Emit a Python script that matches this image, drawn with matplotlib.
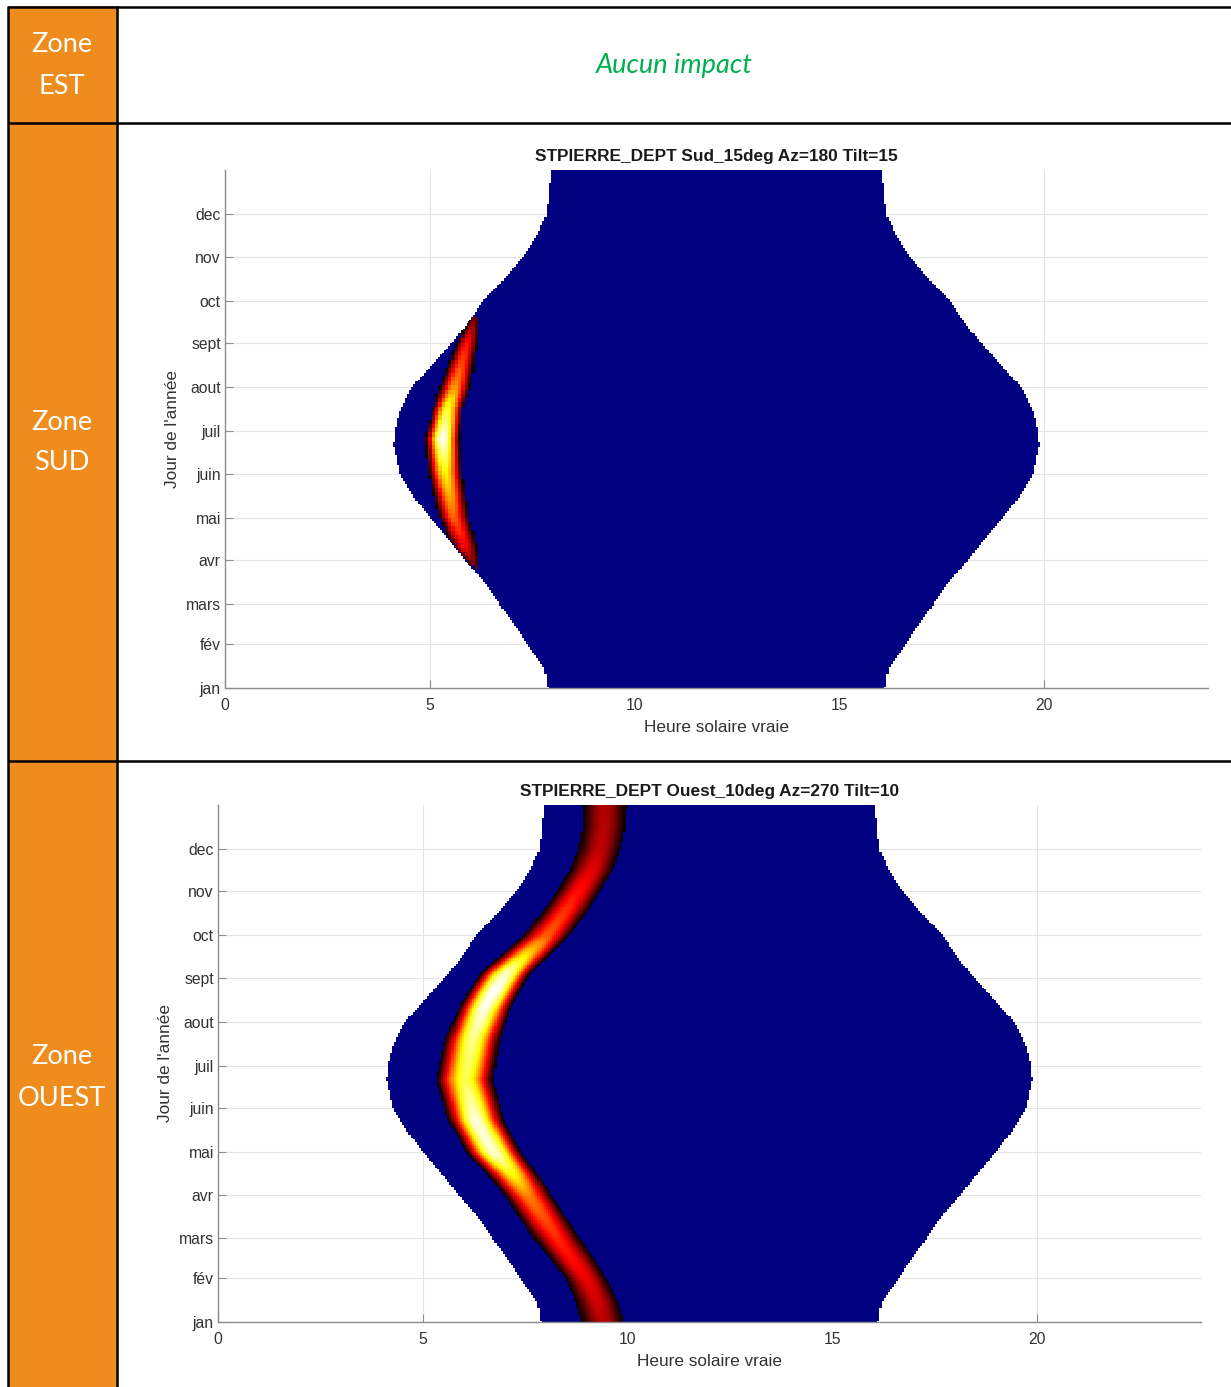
import numpy as np
import matplotlib
matplotlib.use("Agg")
import matplotlib.pyplot as plt
from matplotlib.colors import ListedColormap

plt.rcParams['font.family'] = ['Liberation Sans', 'DejaVu Sans']

W, H = 1231, 1387

# axis ticks
month_labels = ['jan', 'fév', 'mars', 'avr', 'mai', 'juin', 'juil', 'aout', 'sept', 'oct', 'nov', 'dec']
month_days = [1, 32, 60, 91, 121, 152, 182, 213, 244, 274, 305, 335]
hour_ticks = [0, 5, 10, 15, 20]

# sunrise in true solar time over the year (sunset = 24 - sunrise)
sun_days = [1, 15, 32, 46, 60, 74, 91, 105, 121, 135, 152, 166, 172, 182, 196,
            213, 227, 244, 258, 274, 288, 305, 319, 335, 349, 365]
sunrise_h = [7.88, 7.80, 7.38, 7.05, 6.71, 6.39, 5.85, 5.49, 5.00, 4.63, 4.27, 4.17, 4.12, 4.15, 4.27,
             4.56, 5.00, 5.54, 5.93, 6.30, 6.78, 7.27, 7.61, 7.85, 7.90, 7.95]

# south panel: shading band (start/end hour and peak loss per day)
sud_days = [85, 99, 121, 152, 175, 196, 212, 243, 259]
sud_start = [6.00, 5.54, 5.20, 4.95, 4.88, 5.05, 5.24, 5.66, 5.98]
sud_end = [6.17, 6.15, 5.93, 5.78, 5.73, 5.80, 5.98, 6.15, 6.17]
sud_peak = [0.15, 0.35, 0.52, 0.75, 1.00, 0.80, 0.58, 0.38, 0.18]

# west panel: shading band centre, half width and peak loss per day
ouest_days = [1, 16, 31, 45, 59, 74, 89, 105, 120, 143, 172, 200, 223, 235, 247, 260,
              274, 290, 306, 320, 336, 350, 365]
ouest_center = [9.40, 9.25, 9.00, 8.66, 8.30, 7.95, 7.60, 7.20, 6.75, 6.30, 6.03, 6.21, 6.51, 6.75, 7.02, 7.50,
                8.02, 8.45, 8.82, 9.12, 9.33, 9.42, 9.44]
ouest_halfw = [0.53, 0.52, 0.50, 0.54, 0.57, 0.58, 0.58, 0.62, 0.68, 0.68, 0.70, 0.68, 0.64, 0.63, 0.62, 0.60,
               0.57, 0.55, 0.53, 0.53, 0.52, 0.53, 0.54]
ouest_peak = [0.26, 0.30, 0.34, 0.38, 0.42, 0.48, 0.55, 0.75, 0.95, 0.97, 0.82, 0.88, 0.98, 1.00, 0.95, 0.72,
              0.50, 0.44, 0.38, 0.33, 0.27, 0.26, 0.25]

orange = '#EF8C1E'
navy = '#000080'


def daylight(days, hours):
    sr = np.interp(days, sun_days, sunrise_h)[:, None]
    return (hours[None, :] >= sr) & (hours[None, :] <= 24 - sr)


def band(days, hours, lo, hi, peak):
    lo = lo[:, None]
    hi = hi[:, None]
    c = (lo + hi) / 2
    hw = (hi - lo) / 2
    u = (hours[None, :] - c) / hw
    inside = np.abs(u) < 1
    v = peak[:, None] * np.clip(1 - u ** 2, 0, None) ** 1.5
    v = np.where(inside, np.maximum(v, 0.005), np.nan)
    return v


def draw_panel(ax, title, shade, extent):
    days = np.arange(1, 366) + 0.5
    hours = np.arange(0, 24, 0.05) + 0.025
    mask = np.where(daylight(days, hours), 1.0, np.nan)
    ax.imshow(mask, origin='lower', extent=[0, 24, 1, 366], aspect='auto',
              cmap=ListedColormap([navy]), interpolation='nearest', zorder=1)
    ax.imshow(shade, origin='lower', extent=extent, aspect='auto', cmap='hot',
              vmin=0, vmax=1, interpolation='nearest', zorder=2)

    ax.set_xlim(0, 24)
    ax.set_ylim(1, 366)
    ax.set_xticks(hour_ticks)
    ax.set_yticks(month_days)
    ax.set_yticklabels(month_labels)
    ax.grid(True, color='#e4e4e4', lw=0.8)
    ax.set_axisbelow(True)
    for s in ['top', 'right']:
        ax.spines[s].set_visible(False)
    for s in ['left', 'bottom']:
        ax.spines[s].set_color('#8c8c8c')
        ax.spines[s].set_linewidth(1.0)
    ax.tick_params(direction='in', length=6, color='#8c8c8c', labelcolor='#333333', labelsize=11.3)
    ax.tick_params(axis='x', pad=7)
    ax.tick_params(axis='y', pad=3)
    ax.set_title(title, fontsize=12.4, fontweight='bold', color='#1a1a1a', pad=6.5)
    ax.set_xlabel('Heure solaire vraie', fontsize=12.4, color='#333333', labelpad=5)
    ax.set_ylabel("Jour de l'année", fontsize=12.4, color='#333333', labelpad=4)
    ax.set_facecolor('white')


fig = plt.figure(figsize=(W / 100, H / 100), dpi=100)

# table frame drawn in pixel coordinates
bg = fig.add_axes([0, 0, 1, 1])
bg.set_xlim(0, W)
bg.set_ylim(H, 0)
bg.axis('off')
bg.add_patch(plt.Rectangle((8, 6), 109, H, color=orange, lw=0))
lw_tab = 1.8
bg.plot([8, W], [6.5, 6.5], color='black', lw=lw_tab, solid_capstyle='butt')
bg.plot([8, W], [123, 123], color='black', lw=lw_tab, solid_capstyle='butt')
bg.plot([8, W], [761, 761], color='black', lw=lw_tab, solid_capstyle='butt')
bg.plot([8, 8], [6, H], color='black', lw=lw_tab, solid_capstyle='butt')
bg.plot([117, 117], [6, H], color='black', lw=lw_tab, solid_capstyle='butt')

zone_font = dict(color='white', fontsize=19.5, family=['Lato', 'DejaVu Sans'], ha='center', va='center')
for y, txt in [(45, 'Zone'), (86, 'EST'), (422, 'Zone'), (463, 'SUD'), (1057, 'Zone'), (1098, 'OUEST')]:
    bg.text(62, y, txt, **zone_font)
bg.text(674, 65, 'Aucun impact', color='#00B050', fontsize=19.5, style='italic',
        family=['Lato', 'DejaVu Sans'], ha='center', va='center')

# south facing array
sd = np.arange(sud_days[0], sud_days[-1] + 1, 3)
sh = np.arange(4.0, 7.0, 0.08) + 0.04
sud_shade = band(sd, sh, np.interp(sd, sud_days, sud_start), np.interp(sd, sud_days, sud_end),
                 np.interp(sd, sud_days, sud_peak))
sud_shade[~daylight(sd, sh)] = np.nan
ax1 = fig.add_axes([225 / W, 1 - 688 / H, 983 / W, 518 / H])
draw_panel(ax1, 'STPIERRE_DEPT Sud_15deg Az=180 Tilt=15', sud_shade,
           [4.0, 4.0 + 0.08 * len(sh), sd[0], sd[-1] + 3])

# west facing array
od = np.arange(1, 366) + 0.5
oh = np.arange(0, 24, 0.05) + 0.025
oc = np.interp(od, ouest_days, ouest_center)
ow = np.interp(od, ouest_days, ouest_halfw)
ouest_shade = band(od, oh, oc - ow, oc + ow, np.interp(od, ouest_days, ouest_peak))
ouest_shade[~daylight(od, oh)] = np.nan
ax2 = fig.add_axes([218 / W, 1 - 1322 / H, 983 / W, 517 / H])
draw_panel(ax2, 'STPIERRE_DEPT Ouest_10deg Az=270 Tilt=10', ouest_shade, [0, 24, 1, 366])

fig.savefig('out.png', dpi=100)
